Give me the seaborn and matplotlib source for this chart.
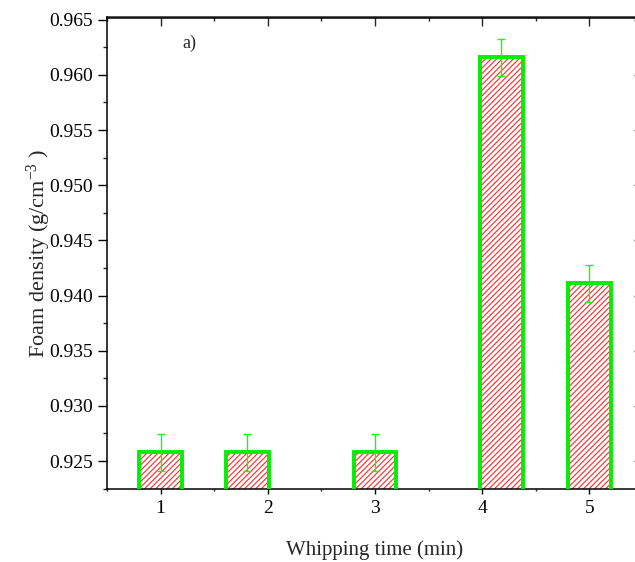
import matplotlib
matplotlib.use("Agg")
import matplotlib.pyplot as plt
from matplotlib.ticker import MultipleLocator, NullFormatter
import numpy as np
import seaborn as sns

# ---- data ----
bar_x = [1.0, 1.81, 3.0, 4.18, 5.0]          # bar positions on the time axis
density = [0.9258, 0.9258, 0.9258, 0.9616, 0.9411]
density_err = [0.00167, 0.00167, 0.00167, 0.00166, 0.00167]
tick_vals = [1, 2, 3, 4, 5]
tick_labels = ["1", "2", "3", "4", "5"]
y_ticks = [0.925, 0.930, 0.935, 0.940, 0.945, 0.950, 0.955, 0.960, 0.965]

sns.set_style("ticks")
plt.rcParams["font.family"] = ["Liberation Serif", "DejaVu Serif"]
plt.rcParams["mathtext.fontset"] = "custom"
plt.rcParams["mathtext.rm"] = "Liberation Serif"
plt.rcParams["mathtext.it"] = "Liberation Serif:italic"
plt.rcParams["hatch.linewidth"] = 0.8

W, H = 635, 562
fig = plt.figure(figsize=(W / 100, H / 100), dpi=100)
ax = fig.add_axes([107 / W, 72.7 / H, 536 / W, 471.8 / H])

min_gap = np.min(np.diff(np.unique(bar_x)))
rel_w = 0.40 / min_gap

# hatched red fill
sns.barplot(x=bar_x, y=density, native_scale=True, width=rel_w,
            color="white", edgecolor="#ff2a2a", hatch="//////", linewidth=0,
            errorbar=None, ax=ax, zorder=2)
# thick green outline
sns.barplot(x=bar_x, y=density, native_scale=True, width=rel_w,
            color="#00f000", fill=False, linewidth=2.8,
            errorbar=None, ax=ax, zorder=3)

ax.errorbar(bar_x, density, yerr=density_err, fmt="none", ecolor="#22ee22",
            elinewidth=1.0, capsize=3, capthick=1.0, zorder=5)

ax.set_xlim(0.5, 5.5)
ax.set_ylim(0.92244, 0.9652)
ax.set_xticks(tick_vals)
ax.set_xticklabels(tick_labels)
ax.xaxis.set_minor_locator(MultipleLocator(0.5))
ax.set_yticks(y_ticks)
ax.set_yticklabels([f"{v:.3f}" for v in y_ticks])
ax.yaxis.set_minor_locator(MultipleLocator(0.0025))

for s in ax.spines.values():
    s.set_linewidth(1.1)
    s.set_color("black")

ax.tick_params(axis="x", which="major", direction="out", length=3.5, width=1.0,
               labelsize=14, pad=4, colors="black")
ax.tick_params(axis="x", which="minor", direction="out", length=1.5, width=1.0)
ax.tick_params(axis="y", which="major", direction="out", length=6.2, width=1.0,
               labelsize=14, pad=4, colors="black")
ax.tick_params(axis="y", which="minor", direction="out", length=3.0, width=1.0)

top = ax.secondary_xaxis("top")
top.set_xticks(tick_vals)
top.xaxis.set_minor_locator(MultipleLocator(0.5))
top.xaxis.set_major_formatter(NullFormatter())
top.tick_params(axis="x", which="major", direction="in", length=6.5, width=1.0)
top.tick_params(axis="x", which="minor", direction="in", length=3.0, width=1.0)
top.spines["top"].set_linewidth(1.1)

right = ax.secondary_yaxis("right")
right.set_yticks(y_ticks)
right.yaxis.set_minor_locator(MultipleLocator(0.0025))
right.yaxis.set_major_formatter(NullFormatter())
right.tick_params(axis="y", which="major", direction="in", length=6.2, width=1.0)
right.tick_params(axis="y", which="minor", direction="in", length=3.0, width=1.0)

ax.set_xlabel("Whipping time (min)", fontsize=15, labelpad=17)
ax.set_ylabel(r"Foam density (g/cm$^{\mathrm{-3}}$ )", fontsize=16, labelpad=-3)

ax.text(1.2, 0.9629, "a)", fontsize=13, ha="left", va="center")

fig.savefig("out.png", dpi=100)
